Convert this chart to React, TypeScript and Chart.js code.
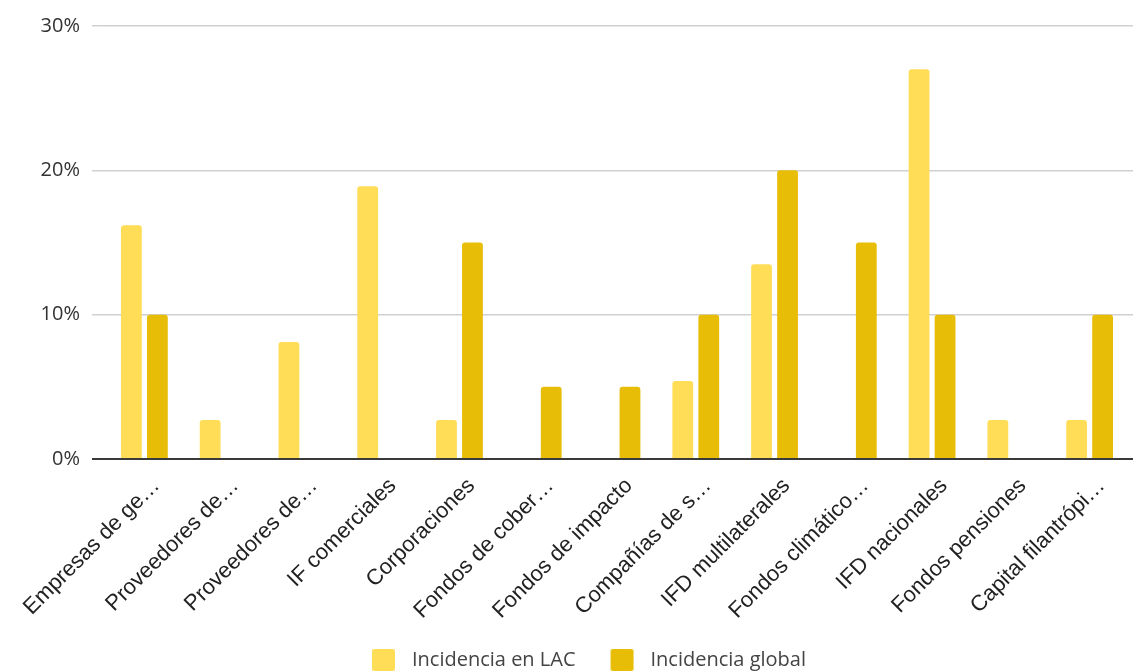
import React, { useEffect, useRef } from "react";
import { Chart, registerables } from "chart.js";

Chart.register(...registerables);

// Categories (truncated as they are shown on the axis)
const categories: string[] = [
  "Empresas de ge…",
  "Proveedores de…",
  "Proveedores de…",
  "IF comerciales",
  "Corporaciones",
  "Fondos de cober…",
  "Fondos de impacto",
  "Compañías de s…",
  "IFD multilaterales",
  "Fondos climático…",
  "IFD nacionales",
  "Fondos pensiones",
  "Capital filantrópi…",
];

// Share of mentions (%)
const incidenciaLAC: number[] = [16.2, 2.7, 8.1, 18.9, 2.7, 0, 0, 5.4, 13.5, 0, 27.0, 2.7, 2.7];
const incidenciaGlobal: number[] = [10, 0, 0, 0, 15, 5, 5, 10, 20, 15, 10, 0, 10];

const seriesNames: string[] = ["Incidencia en LAC", "Incidencia global"];
const seriesColors: string[] = ["#ffdd57", "#e8bd07"];

const yTicks: number[] = [0, 10, 20, 30];

const gridColor = (ctx: any) => (ctx.tick && ctx.tick.value === 0 ? "#3a3a3a" : "#d0d0d0");
const gridWidth = (ctx: any) => (ctx.tick && ctx.tick.value === 0 ? 2 : 1.5);

// Legend swatch: a rounded square placed inside a wider transparent tile,
// which keeps the gap between swatch and text.
function makeSwatch(color: string): HTMLCanvasElement {
  const c = document.createElement("canvas");
  c.width = 45;
  c.height = 23;
  const g = c.getContext("2d")!;
  g.fillStyle = color;
  g.beginPath();
  (g as any).roundRect(15, 0, 23, 23, 3);
  g.fill();
  return c;
}

export default function App() {
  const canvasRef = useRef<HTMLCanvasElement | null>(null);

  useEffect(() => {
    if (!canvasRef.current) return;
    const swatches = seriesColors.map(makeSwatch);
    const chart = new Chart(canvasRef.current, {
      type: "bar",
      data: {
        labels: categories,
        datasets: [
          {
            label: seriesNames[0],
            data: incidenciaLAC,
            backgroundColor: seriesColors[0],
            borderRadius: 3,
            categoryPercentage: 0.66,
            barPercentage: 0.8,
          },
          {
            label: seriesNames[1],
            data: incidenciaGlobal,
            backgroundColor: seriesColors[1],
            borderRadius: 3,
            categoryPercentage: 0.66,
            barPercentage: 0.8,
          },
        ],
      },
      options: {
        animation: false,
        responsive: false,
        maintainAspectRatio: false,
        layout: { padding: { top: 26, left: 30, right: 0, bottom: 0 } },
        plugins: {
          tooltip: { enabled: false },
          legend: {
            position: "bottom",
            labels: {
              usePointStyle: true,
              pointStyleWidth: 45,
              padding: 20,
              color: "#444",
              font: { family: "'Open Sans'", size: 20 },
              generateLabels: (c: any) =>
                c.data.datasets.map((ds: any, i: number) => ({
                  text: ds.label,
                  fillStyle: ds.backgroundColor,
                  strokeStyle: ds.backgroundColor,
                  lineWidth: 0,
                  pointStyle: swatches[i],
                  datasetIndex: i,
                  fontColor: "#444",
                })),
            },
          },
        },
        scales: {
          x: {
            grid: { display: false },
            border: { display: false },
            ticks: {
              minRotation: 45,
              maxRotation: 45,
              autoSkip: false,
              padding: 6,
              labelOffset: 12,
              color: "#222",
              font: { family: "'Liberation Sans'", size: 22 },
            },
            afterFit: (s: any) => {
              s.height = 171;
              s.paddingLeft = 0;
              s.paddingRight = 0;
            },
          },
          y: {
            min: 0,
            max: 30,
            afterBuildTicks: (s: any) => {
              s.ticks = yTicks.map((v) => ({ value: v }));
            },
            border: { display: false },
            grid: {
              color: gridColor,
              tickColor: gridColor,
              lineWidth: gridWidth,
              tickWidth: gridWidth,
              tickLength: 13,
            },
            ticks: {
              padding: 12,
              color: "#333",
              font: { family: "'Open Sans'", size: 20 },
              callback: (v: any) => `${v}%`,
            },
            afterFit: (s: any) => {
              s.width = 75;
              s.paddingTop = 0;
              s.paddingBottom = 0;
            },
          },
          yRight: {
            position: "right",
            min: 0,
            max: 30,
            afterBuildTicks: (s: any) => {
              s.ticks = yTicks.map((v) => ({ value: v }));
            },
            border: { display: false },
            grid: {
              drawOnChartArea: false,
              color: gridColor,
              tickColor: gridColor,
              lineWidth: gridWidth,
              tickWidth: gridWidth,
              tickLength: 4,
            },
            ticks: { display: false },
            afterFit: (s: any) => {
              s.width = 4;
            },
          },
        },
      },
    } as any);
    return () => chart.destroy();
  }, []);

  return (
    <div
      style={{
        position: "fixed",
        left: 0,
        top: 0,
        width: 1133,
        height: 671,
        overflow: "hidden",
        background: "#fff",
      }}
    >
      <canvas ref={canvasRef} width={1133} height={680} style={{ width: 1133, height: 680, display: "block" }} />
    </div>
  );
}
